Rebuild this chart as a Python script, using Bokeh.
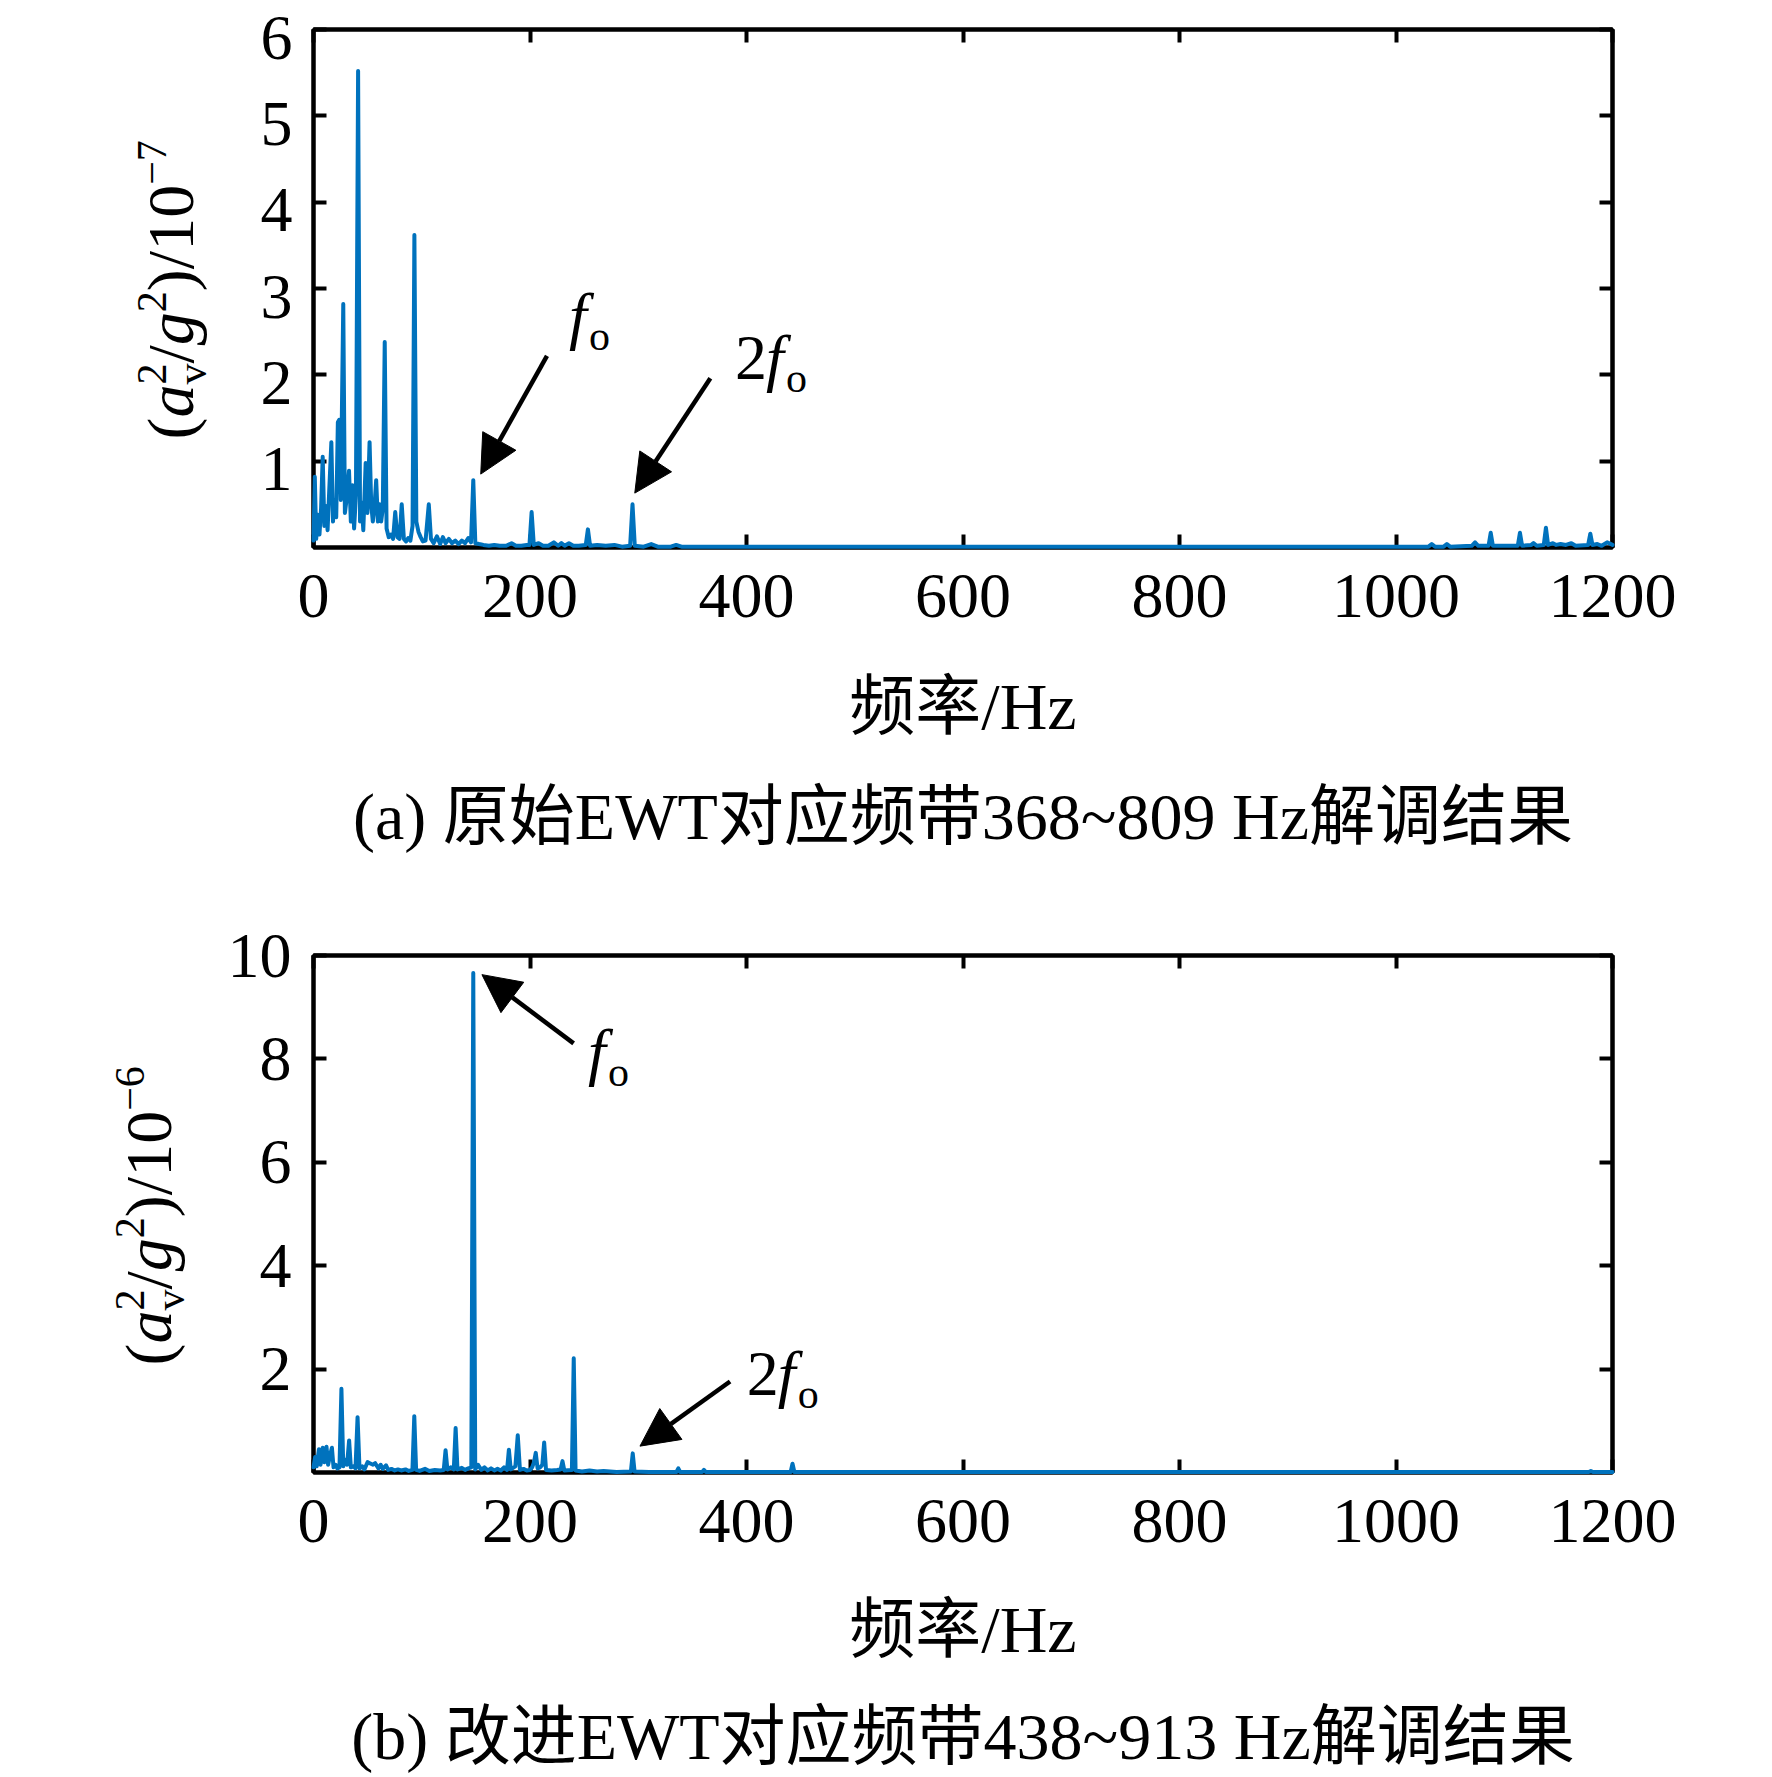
import numpy as np
from bokeh.plotting import figure
from bokeh.models import Arrow, NormalHead, Label, LinearAxis, FixedTicker, Range1d
from bokeh.layouts import column, row
from bokeh.embed import file_html
from bokeh.resources import INLINE

# ---- spectrum (a), values in 1e-7
freq_a = [0, 1.2, 2.5, 4.0, 5.5, 7.0, 8.5, 10.0, 11.5, 13.0,
          14.5, 16.5, 18.0, 19.5, 21.0, 22.5, 23.8, 25.2, 27.5, 29.0,
          30.5, 32.8, 34.5, 36.0, 37.5, 39.2, 41.2, 43.0, 44.5, 46.0,
          48.2, 49.8, 51.8, 53.3, 54.8, 56.2, 57.9, 59.5, 61.0, 62.5,
          64.0, 65.8, 67.5, 69.5, 71.5, 73.5, 75.5, 77.5, 79.5, 81.5,
          83.5, 85.5, 87.5, 89.5, 91.5, 93.2, 95.0, 97.0, 99.0, 101.0,
          103.5, 106.5, 108.5, 111.0, 114.0, 117.0, 119.5, 122.0, 125.0, 128.0,
          131.0, 134.0, 137.0, 140.0, 143.0, 145.5, 147.6, 149.5, 153.0, 157.0,
          162.0, 167.0, 172.0, 178.0, 183.0, 187.0, 192.0, 197.0, 199.5, 201.5,
          203.5, 208.0, 212.0, 217.0, 222.0, 226.0, 229.0, 232.0, 236.0, 240.0,
          245.0, 251.5, 253.5, 255.5, 262.0, 270.0, 278.0, 285.0, 292.5, 294.7,
          296.8, 305.0, 312.0, 318.0, 330.0, 335.0, 340.0, 400.0, 600.0, 800.0,
          1000.0, 1030.0, 1033.0, 1036.0, 1044.0, 1047.0, 1050.0, 1070.0, 1073.0, 1076.0,
          1085.5, 1087.5, 1089.5, 1100.0, 1112.5, 1114.5, 1116.5, 1125.0, 1127.0, 1130.0,
          1136.5, 1138.5, 1140.5, 1145.0, 1148.0, 1152.0, 1157.0, 1162.0, 1166.0, 1177.5,
          1179.5, 1181.5, 1186.0, 1190.0, 1195.0, 1200.0]
amp_a = [0.08, 0.82, 0.10, 0.38, 0.15, 0.45, 1.05, 0.25, 0.48, 0.20,
         0.65, 1.22, 0.30, 0.55, 0.35, 1.45, 1.48, 0.55, 2.82, 0.40,
         0.55, 0.89, 0.30, 0.72, 0.22, 0.60, 5.52, 0.30, 0.52, 0.20,
         0.98, 0.40, 1.22, 0.50, 0.30, 0.45, 0.78, 0.30, 0.50, 0.30,
         0.45, 2.38, 0.22, 0.12, 0.15, 0.10, 0.41, 0.12, 0.10, 0.50,
         0.10, 0.07, 0.11, 0.08, 0.25, 3.62, 0.30, 0.18, 0.12, 0.07,
         0.08, 0.50, 0.10, 0.05, 0.13, 0.04, 0.12, 0.05, 0.10, 0.05,
         0.08, 0.04, 0.08, 0.05, 0.11, 0.06, 0.78, 0.05, 0.04, 0.03,
         0.02, 0.03, 0.02, 0.02, 0.05, 0.02, 0.02, 0.03, 0.03, 0.41,
         0.03, 0.05, 0.02, 0.02, 0.06, 0.02, 0.05, 0.02, 0.05, 0.02,
         0.02, 0.03, 0.21, 0.02, 0.03, 0.02, 0.03, 0.01, 0.02, 0.50,
         0.02, 0.01, 0.04, 0.01, 0.01, 0.03, 0.01, 0.01, 0.01, 0.01,
         0.01, 0.01, 0.04, 0.01, 0.01, 0.04, 0.01, 0.02, 0.06, 0.02,
         0.02, 0.17, 0.02, 0.02, 0.02, 0.17, 0.02, 0.03, 0.05, 0.02,
         0.03, 0.23, 0.03, 0.05, 0.03, 0.04, 0.03, 0.05, 0.02, 0.03,
         0.16, 0.03, 0.04, 0.02, 0.06, 0.03]

# ---- spectrum (b), values in 1e-6
freq_b = [0, 1.5, 3.0, 5.0, 6.5, 8.5, 10.0, 12.0, 13.5, 15.5,
          17.0, 18.5, 20.5, 22.0, 24.0, 25.8, 27.5, 29.0, 31.0, 32.9,
          34.5, 37.0, 38.8, 40.7, 42.5, 45.0, 47.0, 50.0, 52.0, 55.0,
          57.0, 60.0, 62.0, 64.0, 67.0, 69.0, 72.0, 75.0, 78.0, 81.0,
          85.0, 88.0, 91.4, 93.1, 94.8, 98.0, 103.0, 107.0, 112.0, 117.0,
          120.3, 122.0, 123.7, 127.0, 129.6, 131.3, 133.0, 137.0, 140.0, 143.0,
          145.8, 147.6, 149.4, 152.0, 155.0, 158.0, 161.0, 164.0, 167.0, 170.0,
          173.0, 176.0, 178.8, 180.5, 182.2, 186.5, 188.7, 190.7, 194.0, 197.0,
          200.0, 202.0, 203.7, 205.3, 207.0, 209.5, 211.4, 213.1, 214.8, 220.0,
          225.0, 228.3, 230.0, 231.7, 238.7, 240.4, 242.1, 248.0, 255.0, 262.0,
          268.0, 280.0, 293.2, 294.9, 296.6, 310.0, 335.3, 337.0, 338.7, 359.0,
          360.7, 362.4, 440.8, 442.5, 444.2, 600.0, 800.0, 1000.0, 1178.0, 1180.0,
          1182.0, 1200.0]
amp_b = [0.10, 0.30, 0.12, 0.45, 0.15, 0.48, 0.20, 0.50, 0.15, 0.35,
         0.48, 0.10, 0.15, 0.08, 0.10, 1.62, 0.12, 0.25, 0.15, 0.62,
         0.10, 0.12, 0.08, 1.07, 0.08, 0.12, 0.06, 0.20, 0.18, 0.15,
         0.18, 0.08, 0.15, 0.07, 0.14, 0.05, 0.07, 0.04, 0.06, 0.04,
         0.06, 0.03, 0.05, 1.09, 0.05, 0.03, 0.07, 0.03, 0.05, 0.04,
         0.05, 0.43, 0.06, 0.10, 0.06, 0.86, 0.06, 0.09, 0.05, 0.08,
         0.10, 9.66, 0.06, 0.15, 0.05, 0.10, 0.04, 0.08, 0.04, 0.07,
         0.04, 0.10, 0.05, 0.44, 0.06, 0.12, 0.72, 0.05, 0.07, 0.04,
         0.05, 0.10, 0.20, 0.38, 0.08, 0.10, 0.15, 0.58, 0.05, 0.04,
         0.05, 0.06, 0.22, 0.04, 0.05, 2.21, 0.04, 0.02, 0.04, 0.02,
         0.03, 0.01, 0.02, 0.37, 0.02, 0.01, 0.01, 0.08, 0.01, 0.01,
         0.05, 0.01, 0.01, 0.17, 0.01, 0.01, 0.01, 0.01, 0.01, 0.03,
         0.01, 0.01]

x_ticks = [0, 200, 400, 600, 800, 1000, 1200]
y_ticks_a = [1, 2, 3, 4, 5, 6]
y_ticks_b = [2, 4, 6, 8, 10]

x_label = "频率/Hz"
caption_a = "(a) 原始EWT对应频带368~809 Hz解调结果"
caption_b = "(b) 改进EWT对应频带438~913 Hz解调结果"
exp_a = "\u22127"
exp_b = "\u22126"

SERIF = "Liberation Serif"
MIXED = "Liberation Serif, Noto Sans CJK SC"
BLUE = "#0072BD"
MID = 0.3375          # baseline sits this many em below the middle of the text box

LEFT_W = 215          # width of the strip that holds the rotated y label
MAIN_W = 1535
FRAME_L = 313         # page x of the plot box
FRAME_W = 1299


def blank_fig(w, h, top=0, bottom=0, yspan=None):
    # empty figure used to hold free text; 1 data unit = 1 px
    p = figure(width=w, height=h, x_range=Range1d(0, w),
               y_range=Range1d(0, yspan if yspan else h),
               x_axis_type=None, y_axis_type=None, min_border_left=0, min_border_right=0,
               min_border_top=top, min_border_bottom=bottom,
               output_backend="svg", toolbar_location=None)
    p.grid.visible = False
    p.outline_line_color = None
    p.background_fill_color = "white"
    p.border_fill_color = "white"
    return p


def style_axis(ax, ticks, labels=True, standoff=0, tick_in=13):
    ax.ticker = FixedTicker(ticks=ticks)
    ax.axis_line_width = 4
    ax.axis_line_color = "black"
    ax.major_tick_in = tick_in
    ax.major_tick_out = 0
    ax.major_tick_line_width = 4
    ax.major_tick_line_color = "black"
    ax.minor_tick_line_color = None
    if labels:
        ax.major_label_text_font = SERIF
        ax.major_label_text_font_size = "64px"
        ax.major_label_text_color = "black"
        ax.major_label_standoff = standoff
    else:
        ax.major_label_overrides = {t: "" for t in ticks}
        ax.major_label_text_font_size = "1px"
        ax.major_label_standoff = 0


def ylabel_fig(h, top, frame_h, base_x, start_y, exponent, big=66, small=42):
    # rotated label (a_v^2/g^2)/10^exp, built bottom-to-top from pieces;
    # the strip's frame lines up with the plot box, y measured up from its bottom
    p = blank_fig(LEFT_W, h, top, h - top - frame_h, frame_h)
    sup = -0.40 * big
    sub = 0.20 * big
    y = start_y

    def put(text, size, shift=0, italic=False):
        p.add_layout(Label(x=base_x + shift - MID * size, y=y, angle=np.pi / 2, text=text,
                           text_font=SERIF, text_font_size=f"{size}px",
                           text_font_style="italic" if italic else "normal",
                           text_align="left", text_baseline="middle",
                           text_color="black"))

    put("(", big); y += 0.333 * big
    put("a", big, italic=True); y += 0.5 * big
    put("2", small, sup); put("v", small, sub); y += 0.5 * small
    put("/", big); y += 0.278 * big
    put("g", big, italic=True); y += 0.5 * big
    put("2", small, sup); y += 0.5 * small
    put(")/10", big); y += 1.611 * big
    put(exponent, small, sup)
    return p


def text_fig(h, label_y, caption, caption_y, size=66):
    p = blank_fig(LEFT_W + MAIN_W, h)
    cx = FRAME_L + FRAME_W / 2
    for txt, yy in ((x_label, label_y), (caption, caption_y)):
        p.add_layout(Label(x=cx, y=yy + MID * size, text=txt, text_font=MIXED,
                           text_font_size=f"{size}px", text_align="center",
                           text_baseline="middle", text_color="black"))
    return p


def add_fo(p, x, y, prefix=False):
    kw = dict(text_font=SERIF, text_color="black", text_align="left", text_baseline="middle")
    dx = 0
    if prefix:
        p.add_layout(Label(x=x, y=y, y_offset=MID * 64, text="2", text_font_size="64px", **kw))
        dx = 31
    p.add_layout(Label(x=x, y=y, x_offset=dx, y_offset=MID * 64, text="f",
                       text_font_size="64px", text_font_style="italic", **kw))
    p.add_layout(Label(x=x, y=y, x_offset=dx + 20, y_offset=-13 + MID * 42, text="o",
                       text_font_size="42px", **kw))


def add_arrow(p, x0, y0, x1, y1):
    p.add_layout(Arrow(x_start=x0, y_start=y0, x_end=x1, y_end=y1,
                       line_width=4.5, line_color="black",
                       end=NormalHead(size=38, fill_color="black", line_color="black", line_width=1)))


def main_fig(freq, amp, ymax, yticks, height, top, frame_h, label_drop=0):
    bottom = height - top - frame_h
    p = figure(width=MAIN_W, height=height, x_range=Range1d(0, 1200), y_range=Range1d(0, ymax),
               output_backend="svg", toolbar_location=None,
               min_border_left=FRAME_L - LEFT_W, min_border_right=MAIN_W - (FRAME_L - LEFT_W) - FRAME_W,
               min_border_top=top, min_border_bottom=bottom)
    p.grid.visible = False
    p.outline_line_color = "black"
    p.outline_line_width = 4
    p.background_fill_color = "white"
    p.border_fill_color = "white"

    style_axis(p.xaxis[0], x_ticks, True, 27)
    if label_drop:
        # tick labels sit a few px below their ticks in the original:
        # ticks on the real axis, numbers on a copy of the scale shifted by label_drop px
        style_axis(p.yaxis[0], yticks, False)
        d = label_drop * ymax / frame_h
        p.extra_y_ranges = {"ylab": Range1d(d, ymax + d)}
        lab_ax = LinearAxis(y_range_name="ylab")
        style_axis(lab_ax, yticks, True, 21, tick_in=0)
        lab_ax.axis_line_color = None
        lab_ax.major_tick_line_color = None
        p.add_layout(lab_ax, "left")
    else:
        style_axis(p.yaxis[0], yticks, True, 22)
    top_ax = LinearAxis()
    style_axis(top_ax, x_ticks, False)
    p.add_layout(top_ax, "above")
    right_ax = LinearAxis()
    style_axis(right_ax, yticks, False)
    p.add_layout(right_ax, "right")

    p.line(freq, amp, line_color=BLUE, line_width=4, line_join="round", line_cap="round",
           level="overlay")
    return p


# ---- panel (a): page rows 0-655 plot, 655-880 text
pa = main_fig(freq_a, amp_a, 6, y_ticks_a, 655, 29, 518, label_drop=8)
add_arrow(pa, 215.7, 2.22, 154.5, 0.85)
add_arrow(pa, 366.6, 1.96, 296.8, 0.63)
add_fo(pa, 236.0, 2.44)
add_fo(pa, 389.3, 1.95, prefix=True)
ya = ylabel_fig(655, 29, 518, 192, 547 - 439, exp_a)
ta = text_fig(225, 225 - (728 - 655), caption_a, 225 - (838 - 655))

# ---- panel (b): page rows 880-1580 plot, 1580-1775 text
pb = main_fig(freq_b, amp_b, 10, y_ticks_b, 700, 75, 517)
add_arrow(pb, 240.3, 8.30, 155.6, 9.63)
add_arrow(pb, 384.8, 1.76, 301.6, 0.51)
add_fo(pb, 253.6, 7.72)
add_fo(pb, 400.3, 1.49, prefix=True)
yb = ylabel_fig(700, 75, 517, 170, 1472 - 1365, exp_b)
tb = text_fig(195, 195 - (1651 - 1580), caption_b, 195 - (1758 - 1580))

layout = column(row(ya, pa), ta, row(yb, pb), tb)
open("out.html", "w").write(file_html(layout, INLINE))
